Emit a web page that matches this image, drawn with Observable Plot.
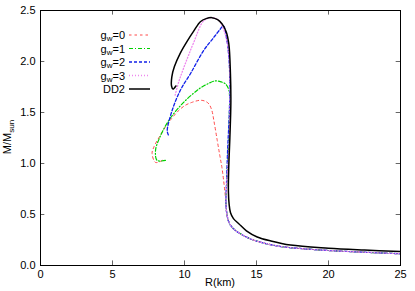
<!DOCTYPE html>
<html><head><meta charset="utf-8">
<script src="https://cdn.jsdelivr.net/npm/d3@7"></script>
<script src="https://cdn.jsdelivr.net/npm/@observablehq/plot@0.6"></script>
<style>
body{margin:0;background:#fff}
#chart svg{font-family:"Liberation Sans",Arial,Helvetica,sans-serif;overflow:visible}
</style>
</head><body><div id="chart"></div>
<script>
// ---- data ----
const xTicks = [0, 5, 10, 15, 20, 25];
const yTicks = [0, 0.5, 1, 1.5, 2, 2.5];
const seriesKeys = ["gw0", "gw1", "gw2", "gw3", "DD2"];
const seriesSub = ["=0", "=1", "=2", "=3", ""];
const seriesColors = ["#ff4a4a", "#00d000", "#1020e8", "#ee88ee", "#000000"];
const seriesDash = ["2.5,3", "4,2,1,2", "3,2", "1,2", "none"];
const seriesWidth = [1.0, 1.2, 1.3, 1.3, 1.5];

const R_gw0 = [8.45, 7.99, 7.75, 7.87, 8.25, 8.68, 9.1, 9.6, 10.05, 10.53, 11.1, 11.45, 11.69, 11.9, 12.04, 12.27, 12.45, 12.6, 12.72, 12.82, 12.88, 12.95, 13.1, 13.4, 13.9, 14.6, 15.5, 16.7, 18.0, 20.0, 22.5, 25.0];
const M_gw0 = [1.03, 1.01, 1.10, 1.16, 1.26, 1.36, 1.44, 1.52, 1.57, 1.60, 1.62, 1.61, 1.585, 1.52, 1.42, 1.23, 1.08, 0.96, 0.83, 0.70, 0.60, 0.50, 0.42, 0.36, 0.31, 0.26, 0.22, 0.186, 0.167, 0.147, 0.13, 0.115];

const R_gw1 = [8.68, 8.10, 7.99, 8.33, 8.90, 9.84, 11.0, 11.6, 12.15, 12.55, 12.85, 13.08, 13.12, 13.08, 13.0, 12.93, 12.88, 12.95, 13.1, 13.4, 13.9, 14.6, 15.5, 16.7, 18.0, 20.0, 22.5, 25.0];
const M_gw1 = [1.03, 1.03, 1.13, 1.27, 1.42, 1.585, 1.73, 1.78, 1.81, 1.80, 1.78, 1.72, 1.50, 1.25, 1.00, 0.80, 0.60, 0.50, 0.42, 0.36, 0.31, 0.26, 0.22, 0.186, 0.167, 0.147, 0.13, 0.115];

const R_gw2 = [8.88, 8.80, 9.14, 9.72, 10.45, 11.34, 12.0, 12.5, 12.7, 12.95, 13.1, 13.15, 13.1, 13.0, 12.93, 12.88, 12.95, 13.1, 13.4, 13.9, 14.6, 15.5, 16.7, 18.0, 20.0, 22.5, 25.0];
const M_gw2 = [1.28, 1.32, 1.52, 1.72, 1.89, 2.11, 2.23, 2.32, 2.35, 2.20, 2.00, 1.75, 1.45, 1.15, 0.85, 0.60, 0.50, 0.42, 0.36, 0.31, 0.26, 0.22, 0.186, 0.167, 0.147, 0.13, 0.115];

const R_gw3 = [9.35, 9.60, 9.90, 10.25, 10.65, 11.34, 11.9, 12.4, 12.8, 13.05, 13.15, 13.15, 13.1, 13.0, 12.93, 12.88, 12.95, 13.1, 13.4, 13.9, 14.6, 15.5, 16.7, 18.0, 20.0, 22.5, 25.0];
const M_gw3 = [1.67, 1.80, 1.92, 2.05, 2.19, 2.40, 2.43, 2.40, 2.28, 2.10, 1.85, 1.50, 1.20, 0.95, 0.80, 0.60, 0.50, 0.42, 0.36, 0.31, 0.26, 0.22, 0.186, 0.167, 0.147, 0.13, 0.115];

const R_DD2 = [9.40, 9.20, 9.10, 9.12, 9.30, 9.70, 10.19, 10.65, 11.1, 11.5, 11.9, 12.3, 12.6, 12.9, 13.08, 13.19, 13.22, 13.15, 13.07, 13.05, 13.10, 13.19, 13.40, 13.77, 14.3, 15.05, 16.0, 17.36, 20.0, 22.5, 25.0];
const M_DD2 = [1.76, 1.73, 1.76, 1.85, 1.95, 2.08, 2.20, 2.30, 2.39, 2.42, 2.43, 2.41, 2.37, 2.29, 2.17, 1.88, 1.60, 1.25, 0.95, 0.72, 0.60, 0.52, 0.46, 0.41, 0.34, 0.28, 0.24, 0.20, 0.17, 0.152, 0.137];

const Rs = [R_gw0, R_gw1, R_gw2, R_gw3, R_DD2];
const Ms = [M_gw0, M_gw1, M_gw2, M_gw3, M_DD2];

// ---- build table ----
const rows = [];
seriesKeys.forEach((k, i) => Rs[i].forEach((r, j) => rows.push({series: k, R: r, M: Ms[i][j], idx: j})));

const W = 415, H = 291;
const xMin = xTicks[0], xMax = xTicks[xTicks.length - 1];
const yMin = yTicks[0], yMax = yTicks[yTicks.length - 1];
const tickLenX = 0.3, tickLenY = 0.045; // inward tick length in data units (~4-5 px)

const lineMarks = seriesKeys.map((k, i) =>
  Plot.line(rows.filter(d => d.series === k), {
    x: "R", y: "M", stroke: seriesColors[i], strokeWidth: seriesWidth[i],
    strokeDasharray: seriesDash[i], curve: "catmull-rom", clip: true
  })
);

const chart = Plot.plot({
  width: W, height: H,
  marginLeft: 40, marginRight: 15, marginTop: 10, marginBottom: 26,
  x: {domain: [xMin, xMax], label: null},
  y: {domain: [yMin, yMax], label: null},
  style: {fontSize: "11px", color: "#000", background: "#fff"},
  marks: [
    ...lineMarks,
    Plot.ruleX(xTicks, {x: d => d, y1: yMin, y2: yMin + tickLenY, stroke: "#666"}),
    Plot.ruleX(xTicks, {x: d => d, y1: yMax, y2: yMax - tickLenY, stroke: "#666"}),
    Plot.ruleY(yTicks, {y: d => d, x1: xMin, x2: xMin + tickLenX, stroke: "#666"}),
    Plot.ruleY(yTicks, {y: d => d, x1: xMax, x2: xMax - tickLenX, stroke: "#666"}),
    Plot.axisX(xTicks, {anchor: "bottom", tickSize: 0, tickPadding: 5, fontSize: 11, label: null}),
    Plot.axisY(yTicks, {anchor: "left", tickSize: 0, tickPadding: 5, fontSize: 11, label: null}),
    Plot.frame({stroke: "#000", strokeWidth: 1})
  ]
});
document.getElementById("chart").appendChild(chart);

// ---- axis titles & legend ----
const svg = d3.select(chart);
const fam = '"Liberation Sans",Arial,Helvetica,sans-serif';
svg.append("text").attr("x", 220).attr("y", 286).attr("text-anchor", "middle")
  .attr("font-size", 11).attr("font-family", fam).attr("fill", "#000").text("R(km)");
const yl = svg.append("text").attr("transform", "translate(11,137) rotate(-90)")
  .attr("text-anchor", "middle").attr("font-size", 11).attr("font-family", fam).attr("fill", "#000");
yl.append("tspan").text("M/M");
yl.append("tspan").attr("font-size", 8).attr("dy", 3).text("sun");

const legX = 125, legY0 = 35, legDy = 13.5;
seriesKeys.forEach((k, i) => {
  const y = legY0 + i * legDy;
  const t = svg.append("text").attr("x", legX).attr("y", y + 4).attr("text-anchor", "end")
    .attr("font-size", 11).attr("font-family", fam).attr("fill", "#000");
  if (k === "DD2") {
    t.text("DD2");
  } else {
    t.append("tspan").text("g");
    t.append("tspan").attr("font-size", 8).attr("dy", 2).text("w");
    t.append("tspan").attr("dy", -2).text(seriesSub[i]);
  }
  svg.append("line").attr("x1", legX + 4).attr("x2", legX + 25).attr("y1", y).attr("y2", y)
    .attr("stroke", seriesColors[i]).attr("stroke-width", seriesWidth[i])
    .attr("stroke-dasharray", seriesDash[i]);
});
</script>
</body></html>
